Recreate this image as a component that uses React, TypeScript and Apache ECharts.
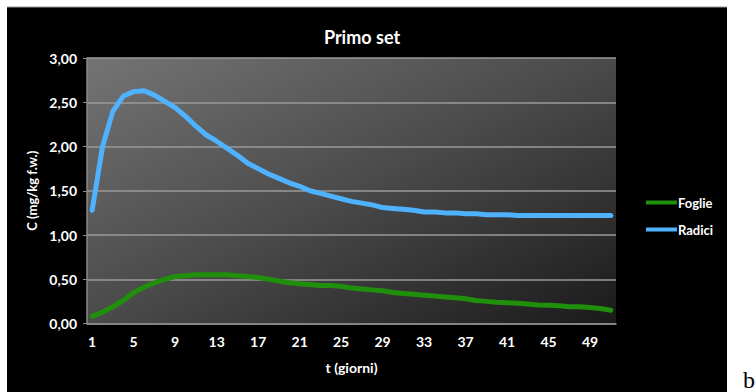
import React, { useEffect, useRef } from "react";
import * as echarts from "echarts";

const days = [
  "1", "2", "3", "4", "5", "6", "7", "8", "9", "10",
  "11", "12", "13", "14", "15", "16", "17", "18", "19", "20",
  "21", "22", "23", "24", "25", "26", "27", "28", "29", "30",
  "31", "32", "33", "34", "35", "36", "37", "38", "39", "40",
  "41", "42", "43", "44", "45", "46", "47", "48", "49", "50", "51",
];

const foglie = [
  0.08, 0.13, 0.19, 0.26, 0.35, 0.41, 0.46, 0.50, 0.53, 0.54,
  0.55, 0.55, 0.55, 0.55, 0.54, 0.53, 0.52, 0.50, 0.48, 0.46,
  0.45, 0.44, 0.43, 0.43, 0.42, 0.40, 0.39, 0.38, 0.37, 0.35,
  0.34, 0.33, 0.32, 0.31, 0.30, 0.29, 0.28, 0.26, 0.25, 0.24,
  0.235, 0.23, 0.22, 0.21, 0.205, 0.20, 0.19, 0.19, 0.18, 0.17, 0.15,
];

const radici = [
  1.28, 2.0, 2.4, 2.57, 2.62, 2.63, 2.58, 2.51, 2.44, 2.34,
  2.23, 2.13, 2.06, 1.98, 1.9, 1.81, 1.75, 1.69, 1.64, 1.59,
  1.55, 1.5, 1.47, 1.44, 1.41, 1.38, 1.36, 1.34, 1.31, 1.3,
  1.29, 1.28, 1.26, 1.26, 1.25, 1.25, 1.24, 1.24, 1.23, 1.23,
  1.23, 1.22, 1.22, 1.22, 1.22, 1.22, 1.22, 1.22, 1.22, 1.22, 1.22,
];

const seriesNames = ["Foglie", "Radici"];
const seriesColors = ["#1f8f0c", "#4fb2ff"];
const yTicks = [0, 0.5, 1, 1.5, 2, 2.5, 3];

const FONT = "Lato, 'Open Sans', sans-serif";

export default function App() {
  const ref = useRef<HTMLDivElement>(null);

  useEffect(() => {
    if (!ref.current) return;
    const chart = echarts.init(ref.current, null, { renderer: "svg" });
    chart.setOption({
      animation: false,
      backgroundColor: "#ffffff",
      graphic: [
        {
          type: "rect",
          z: -10,
          shape: { x: 7, y: 7, width: 720, height: 390 },
          style: { fill: "#000000" },
        },
        {
          type: "line",
          z: -9,
          shape: { x1: 7, y1: 7, x2: 727, y2: 7 },
          style: { stroke: "#9a9a9a", lineWidth: 1 },
        },
        {
          type: "text",
          x: 743,
          y: 392,
          style: {
            text: "b",
            font: "24px 'Liberation Serif', serif",
            fill: "#000000",
            verticalAlign: "bottom",
          },
        },
      ],
      title: {
        text: "Primo set",
        left: 357,
        top: 23,
        textAlign: "center",
        textStyle: {
          color: "#ffffff",
          fontFamily: FONT,
          fontWeight: "bold",
          fontSize: 18,
        },
      },
      legend: {
        orient: "vertical",
        left: 641,
        top: 191,
        icon: "rect",
        itemWidth: 31,
        itemHeight: 4,
        itemGap: 14,
        data: seriesNames,
        textStyle: {
          color: "#ffffff",
          fontFamily: FONT,
          fontWeight: "bold",
          fontSize: 13,
          padding: [0, 0, 0, -4],
        },
      },
      grid: {
        left: 87,
        right: 139,
        top: 58,
        bottom: 68.5,
        show: true,
        borderWidth: 0,
        backgroundColor: new echarts.graphic.LinearGradient(0, 0, 1, 1, [
          { offset: 0, color: "#747474" },
          { offset: 0.5, color: "#4a4a4a" },
          { offset: 1, color: "#1a1a1a" },
        ]),
      },
      xAxis: {
        type: "category",
        data: days,
        boundaryGap: true,
        name: "t (giorni)",
        nameLocation: "middle",
        nameGap: 37,
        nameTextStyle: {
          color: "#ffffff",
          fontFamily: FONT,
          fontWeight: "bold",
          fontSize: 14,
        },
        axisLine: { lineStyle: { color: "#8a8a8a", width: 1.5 } },
        axisTick: {
          interval: 0,
          length: 4,
          lineStyle: { color: "#8a8a8a" },
        },
        axisLabel: {
          interval: 3,
          color: "#ffffff",
          fontFamily: FONT,
          fontWeight: "bold",
          fontSize: 14,
          margin: 11,
        },
        splitLine: { show: false },
      },
      yAxis: {
        type: "value",
        min: yTicks[0],
        max: yTicks[yTicks.length - 1],
        interval: 0.5,
        name: "C (mg/kg f.w.)",
        nameLocation: "middle",
        nameGap: 44,
        nameTextStyle: {
          color: "#ffffff",
          fontFamily: FONT,
          fontWeight: "bold",
          fontSize: 13,
        },
        axisLine: { show: true, lineStyle: { color: "#8a8a8a", width: 1.5 } },
        axisTick: { show: true, length: 4, lineStyle: { color: "#8a8a8a" } },
        axisLabel: {
          color: "#ffffff",
          fontFamily: FONT,
          fontWeight: "bold",
          fontSize: 14,
          margin: 10,
          formatter: (v: number) => v.toFixed(2).replace(".", ","),
        },
        splitLine: { lineStyle: { color: "#9a9a9a", width: 1.5 } },
      },
      series: seriesNames.map((name, i) => ({
        name,
        type: "line",
        data: i === 0 ? foglie : radici,
        symbol: "none",
        smooth: false,
        color: seriesColors[i],
        lineStyle: { width: 5, color: seriesColors[i], join: "round", cap: "round" },
      })),
    });
    return () => chart.dispose();
  }, []);

  return (
    <div
      ref={ref}
      style={{ position: "absolute", left: 0, top: 0, width: 755, height: 392 }}
    />
  );
}
